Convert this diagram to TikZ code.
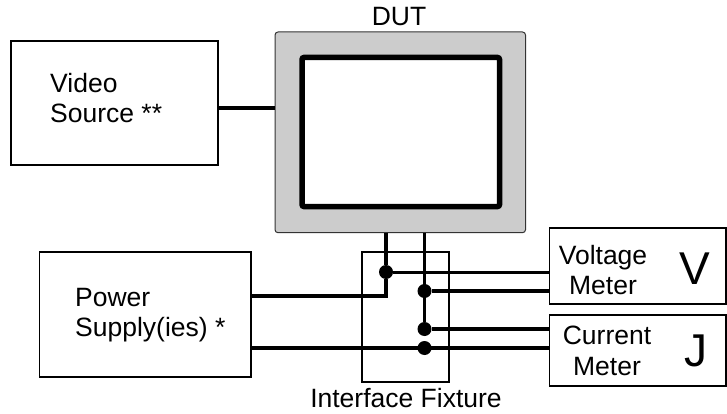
\documentclass[tikz,border=0pt]{standalone}
\usepackage{fontspec}
\setmainfont{Liberation Sans}
\usetikzlibrary{calc}
\begin{document}
\begin{tikzpicture}[
    x=1pt, y=-1pt,
    box/.style={
        rectangle, draw=black, line width=1.5pt, fill=white,
        inner sep=0pt, outer sep=0pt, anchor=north west
    },
    screen/.style={
        rectangle, draw=black, line width=5.5pt, fill=white,
        rounded corners=2pt, inner sep=0pt, outer sep=0pt, anchor=north west
    },
    bezel/.style={
        rectangle, draw=black!80, line width=1pt, fill=black!20,
        rounded corners=3pt, inner sep=0pt, outer sep=0pt, anchor=north west
    },
    wire/.style={line width=3.2pt, color=black},
    dot/.style={circle, fill=black, inner sep=0pt, outer sep=0pt, minimum size=14pt},
    lbl/.style={font=\fontsize{26.5}{30.5}\selectfont, inner sep=0pt, text=black},
    big/.style={font=\fontsize{46}{50}\selectfont, inner sep=0pt, text=black}
]
\useasboundingbox (0,0) rectangle (727,414);

%% Boxes
\node[box, minimum width=207pt, minimum height=124pt] (video) at (11,41) {};
\node[box, minimum width=211.5pt, minimum height=125pt] (power) at (39.5,252) {};
\node[box, minimum width=87pt, minimum height=130pt] (fixture) at (362,252) {};
\node[box, minimum width=176.5pt, minimum height=76pt] (voltage) at (549.5,228) {};
\node[box, minimum width=176.5pt, minimum height=71pt] (current) at (549.5,315) {};

%% Display
\node[bezel, minimum width=250.5pt, minimum height=200.7pt] (dut) at (275,32) {};
\node[screen, minimum width=197.5pt, minimum height=149pt] (panel) at (302,57.5) {};

%% Junctions
\node[dot] (jv) at (386,272) {};
\node[dot] (jw) at (424.5,291) {};
\node[dot] (jc) at (424.5,329) {};
\node[dot] (jr) at (424.5,348) {};
\coordinate (vin) at (246,108);
\coordinate (psu) at (300,296);

%% Wires
\draw[wire] (vin -| video.east) -- (vin -| dut.west);
\draw[wire, line width=4pt] (jv |- dut.south) -- (jv);
\draw[wire, line width=4pt] (jv) -- (jv |- psu) -- (psu -| power.east);
\draw[wire, line width=3.7pt] (jw |- dut.south) -- (jc);
\draw[wire, line width=3pt] (jv) -- (jv -| voltage.west);
\draw[wire] (jw) -- (jw -| voltage.west);
\draw[wire, line width=3.6pt] (jc) -- (jc -| current.west);
\draw[wire] (jr -| power.east) -- (jr -| current.west);

%% Labels
\node[lbl] (dutlbl) at (399,16.5) {DUT};
\node[lbl, align=left, anchor=west] (videolbl) at (50,98) {Video\\Source **};
\node[lbl, align=left, anchor=west] (powerlbl) at (75,315) {Power\\Supply(ies) *};
\node[lbl] (fixturelbl) at (406,398.5) {Interface Fixture};
\node[lbl, align=center] (voltagelbl) at (603,270) {Voltage\\Meter};
\node[lbl, align=center] (currentlbl) at (607,351) {Current\\Meter};
\node[big] (vsym) at (695,268.5) {V};
\node[big] (jsym) at (696,351) {J};
\end{tikzpicture}
\end{document}
